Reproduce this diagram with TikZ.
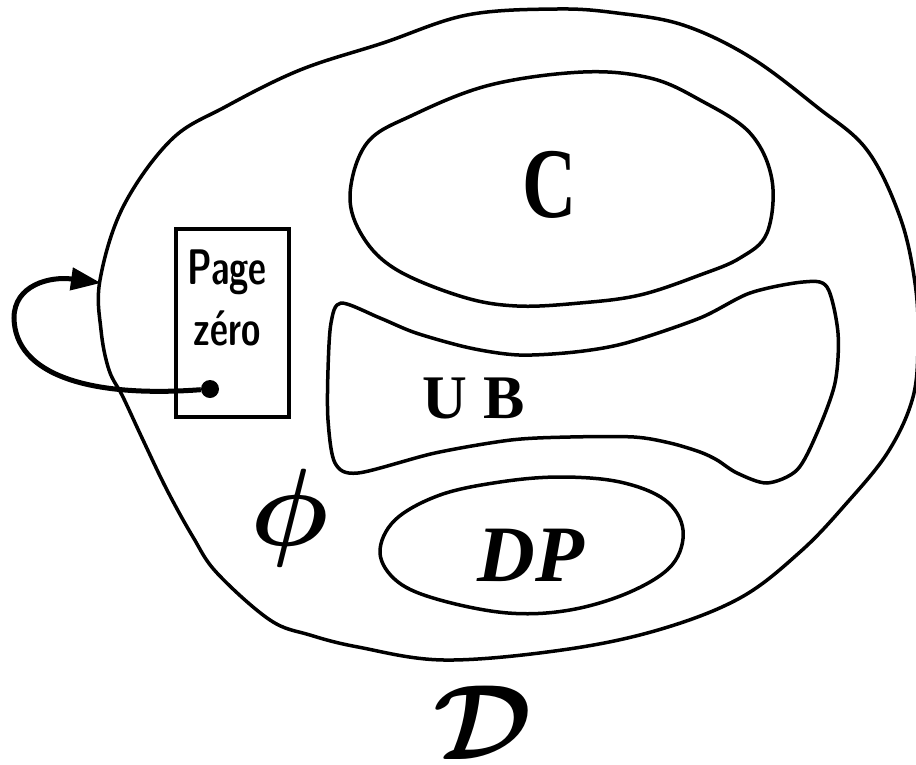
\RequirePackage{fix-cm}
\documentclass[tikz,border=0pt]{standalone}
\usepackage{bm}
\usepackage{fontspec}
\usepackage{graphicx}
\newfontfamily\labelfont{Liberation Serif}
\usetikzlibrary{arrows.meta}

\begin{document}
\begin{tikzpicture}[
  x=1pt, y=-1pt,
  region/.style={line width=3.5pt, line join=round},
  pagebox/.style={rectangle, draw, line width=3.5pt, minimum width=113pt,
    minimum height=188pt, inner sep=0pt},
  handtext/.style={inner sep=0pt, font=\fontsize{50}{50}\selectfont\sffamily\bfseries},
  bigletter/.style={inner sep=0pt},
  dot/.style={circle, fill, minimum size=18pt, inner sep=0pt},
  pointer/.style={-{Triangle[length=30pt, width=22pt]}, line width=5pt},
]
\useasboundingbox (0,0) rectangle (916,764);
\clip (0,0) rectangle (916,764);

% Outer region D
\draw[region] plot[smooth cycle, tension=0.6] coordinates {
  (100,280) (123,207) (171,140) (225,107) (300,70) (383,43) (467,15)
  (557,9) (617,13) (683,25) (750,57) (817,107) (867,150) (900,217)
  (915,283) (918,340) (913,397) (888,452) (845,505) (800,552) (740,598)
  (658,630) (562,650) (444,660) (358,647) (310,635) (270,620) (217,573)
  (193,537) (167,490) (143,440) (123,397) (109,370) (101,330)};

% Region C
\draw[region] plot[smooth cycle, tension=0.6] coordinates {
  (350,195) (367,143) (413,115) (490,85) (583,72) (650,78) (700,100)
  (750,133) (772,180) (767,233) (740,258) (700,275) (640,295) (580,303)
  (517,306) (463,297) (397,270) (363,237)};

% Region UB
\draw[region] plot[smooth cycle, tension=0.5] coordinates {
  (341,303) (380,318) (416,333) (470,348) (519,355) (575,352) (626,343)
  (700,318) (750,293) (803,282) (827,287) (838,333) (835,383) (817,433)
  (797,470) (767,483) (737,473) (717,460) (700,452) (670,443) (634,437)
  (570,437) (511,440) (435,453) (358,473) (335,463) (328,420) (328,370)
  (331,323)};

% Region DP
\draw[region] plot[smooth cycle, tension=0.6] coordinates {
  (380,553) (395,520) (440,495) (500,482) (560,477) (620,482) (665,500)
  (683,530) (672,565) (630,592) (570,610) (508,613) (440,600) (398,582)};

% Page zero box
\node[pagebox] (zero) at (232.5,323) {};
\node[handtext] (page) at (227,272) {\scalebox{0.7}[1]{Page}};
\node[handtext] (zerotext) at (227,328) {\scalebox{0.7}[1]{zéro}};
\node[dot] (ptr) at (210,389) {};
\coordinate (entry) at (101,283);

% Labels
\node[bigletter] (lblC) at (550,185) {\fontsize{100}{100}\selectfont\labelfont\bfseries\scalebox{0.75}[1]{C}};
\node[bigletter] (lblUB) at (474,398) {\fontsize{62}{62}\selectfont\labelfont\bfseries U\hspace{16pt}B};
\node[bigletter] (lblDP) at (531,555) {\fontsize{80}{80}\selectfont\labelfont\bfseries\itshape DP};
\node[bigletter] (lblPhi) at (290,518) {\fontsize{110}{110}\selectfont$\bm{\phi}$};
\node[bigletter] (lblD) at (483,723) {\fontsize{107}{107}\selectfont$\bm{\mathcal{D}}$};

% Pointer from page zero
\draw[pointer] (ptr) .. controls (90,398) and (15,375) .. (14,318)
  .. controls (14,285) and (50,276) .. (entry);
\end{tikzpicture}
\end{document}
